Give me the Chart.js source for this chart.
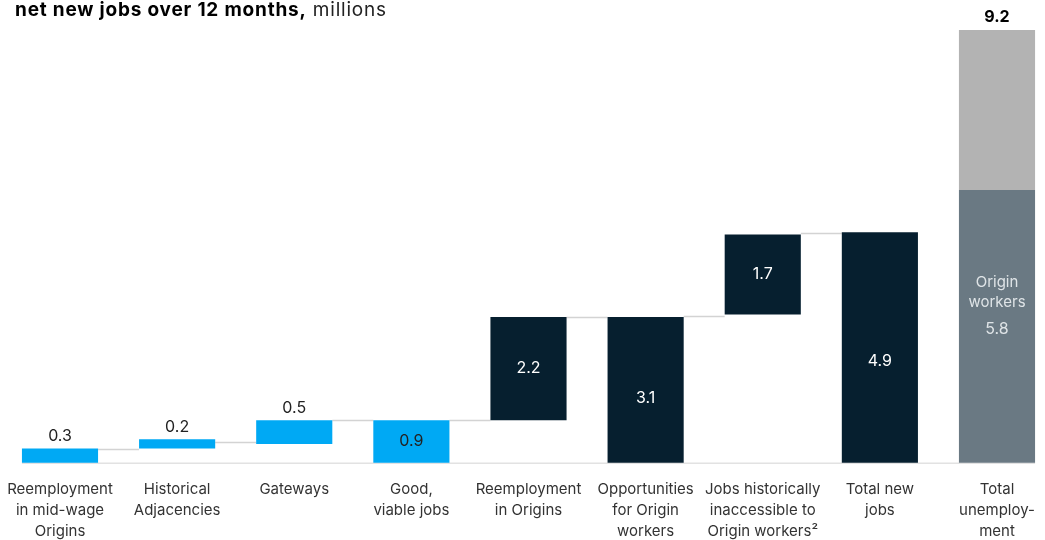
<!DOCTYPE html>
<html>
<head>
<meta charset="utf-8">
<title>Net new jobs over 12 months</title>
<script src="https://cdn.jsdelivr.net/npm/chart.js@4.4.1/dist/chart.umd.min.js"></script>
<style>
  html, body { margin: 0; padding: 0; background: #ffffff; }
  #wrap { position: relative; width: 1045px; height: 540px; }
</style>
</head>
<body>
<div id="wrap"><canvas id="chart" width="1045" height="540"></canvas></div>
<script>
// Categories along the bottom (multi-line tick labels)
const categories = [
  ['Reemployment', 'in mid-wage', 'Origins'],
  ['Historical', 'Adjacencies'],
  ['Gateways'],
  ['Good,', 'viable jobs'],
  ['Reemployment', 'in Origins'],
  ['Opportunities', 'for Origin', 'workers'],
  ['Jobs historically', 'inaccessible to', 'Origin workers\u00B2'],
  ['Total new', 'jobs'],
  ['Total', 'unemploy-', 'ment']
];

// Waterfall steps, millions: stated value of each bar and the level it starts from
const stepValues = [0.3, 0.2, 0.5, 0.9, 2.2, 3.1, 1.7, 4.9];
const stepStarts = [0, 0.3, 0.4, 0, 0.9, 0, 3.15, 0];
// Which steps are running subtotals (solid from zero) vs. increments
const stepKinds = ['add', 'add', 'add', 'total', 'add', 'total', 'add', 'total'];
const stepGroups = ['mid', 'mid', 'mid', 'mid', 'origin', 'origin', 'origin', 'origin'];

// Total unemployment, millions
const originWorkers = 5.8;
const totalUnemployment = 9.2;

const COLORS = {
  mid: '#00a9f4',
  origin: '#061f2f',
  originWorkers: '#6a7983',
  otherWorkers: '#b3b3b3',
  connector: '#d3d3d3',
  baseline: '#e2e2e2',
  text: '#222222'
};
const FONT = "Inter, 'Liberation Sans', Arial, sans-serif";

const lastIndex = categories.length - 1;
const stepData = categories.map((c, i) =>
  i < stepValues.length ? [stepStarts[i], +(stepStarts[i] + stepValues[i]).toFixed(2)] : null);
const originData = categories.map((c, i) => i === lastIndex ? [0, originWorkers] : null);
const otherData = categories.map((c, i) => i === lastIndex ? [originWorkers, totalUnemployment] : null);

// Draws the baseline, the connectors between steps, value labels and the title
const waterfallDecor = {
  id: 'waterfallDecor',
  beforeDatasetsDraw(chart) {
    const { ctx, scales: { y } } = chart;
    const steps = chart.getDatasetMeta(0).data;
    const lastBar = chart.getDatasetMeta(1).data[lastIndex];
    const y0 = y.getPixelForValue(0);
    ctx.save();
    // baseline
    ctx.strokeStyle = COLORS.baseline;
    ctx.lineWidth = 1.5;
    ctx.beginPath();
    ctx.moveTo(steps[0].x - steps[0].width / 2, y0 + 0.5);
    ctx.lineTo(lastBar.x + lastBar.width / 2, y0 + 0.5);
    ctx.stroke();
    // connectors between consecutive steps
    ctx.strokeStyle = COLORS.connector;
    ctx.lineWidth = 1.5;
    for (let i = 0; i < stepValues.length - 1; i++) {
      const top = stepStarts[i] + stepValues[i];
      const nLo = stepStarts[i + 1], nHi = stepStarts[i + 1] + stepValues[i + 1];
      const edge = Math.abs(nLo - top) <= Math.abs(nHi - top) ? nLo : nHi;
      const level = (top + edge) / 2;
      const py = Math.round(y.getPixelForValue(level)) + 0.5;
      const a = steps[i], b = steps[i + 1];
      ctx.beginPath();
      ctx.moveTo(a.x + a.width / 2, py);
      ctx.lineTo(b.x - b.width / 2, py);
      ctx.stroke();
    }
    ctx.restore();
  },
  afterDatasetsDraw(chart) {
    const { ctx, scales: { y } } = chart;
    const steps = chart.getDatasetMeta(0).data;
    const originBar = chart.getDatasetMeta(1).data[lastIndex];
    const otherBar = chart.getDatasetMeta(2).data[lastIndex];
    ctx.save();
    ctx.textAlign = 'center';
    ctx.textBaseline = 'middle';
    ctx.font = '16px ' + FONT;
    stepValues.forEach((v, i) => {
      const bar = steps[i];
      const top = y.getPixelForValue(stepStarts[i] + v);
      const bottom = y.getPixelForValue(stepStarts[i]);
      const txt = v.toFixed(1);
      if (stepGroups[i] === 'mid' && stepKinds[i] === 'add') {
        ctx.fillStyle = COLORS.text;
        ctx.fillText(txt, bar.x, top - 12);
      } else {
        // tall subtotal bars carry their label a little below the middle
        const k = bottom - top > 120 ? 0.44 : 0.5;
        ctx.fillStyle = stepGroups[i] === 'mid' ? COLORS.text : '#ffffff';
        ctx.fillText(txt, bar.x, bottom - (bottom - top) * k);
      }
    });
    // total unemployment bar
    const oTop = y.getPixelForValue(originWorkers);
    ctx.fillStyle = '#dfe4e7';
    ctx.font = '15px ' + FONT;
    ctx.fillText('Origin', originBar.x, oTop + 93);
    ctx.fillText('workers', originBar.x, oTop + 113);
    ctx.font = '16px ' + FONT;
    ctx.fillText(originWorkers.toFixed(1), originBar.x, oTop + 139);
    ctx.fillStyle = '#000000';
    ctx.font = 'bold 16px ' + FONT;
    ctx.fillText(totalUnemployment.toFixed(1), otherBar.x, y.getPixelForValue(totalUnemployment) - 13);
    // title
    ctx.textAlign = 'left';
    ctx.textBaseline = 'alphabetic';
    ctx.letterSpacing = '0.8px';
    ctx.fillStyle = '#000000';
    ctx.font = 'bold 19px ' + FONT;
    const bold = 'net new jobs over 12 months,';
    ctx.fillText(bold, 15, 16);
    const w = ctx.measureText(bold).width;
    ctx.font = '19px ' + FONT;
    ctx.fillStyle = '#222222';
    ctx.fillText(' millions', 15 + w, 16);
    ctx.restore();
  }
};

new Chart(document.getElementById('chart'), {
  type: 'bar',
  data: {
    labels: categories,
    datasets: [
      {
        label: 'Net new jobs',
        data: stepData,
        backgroundColor: stepGroups.map(g => COLORS[g]),
        grouped: false,
        clip: false
      },
      {
        label: 'Origin workers',
        data: originData,
        backgroundColor: COLORS.originWorkers,
        grouped: false,
        clip: false
      },
      {
        label: 'Other unemployed',
        data: otherData,
        backgroundColor: COLORS.otherWorkers,
        grouped: false,
        clip: false
      }
    ]
  },
  options: {
    responsive: false,
    animation: false,
    barPercentage: 0.65,
    categoryPercentage: 1,
    layout: { padding: { top: 30, left: 60, right: 48, bottom: 0 } },
    plugins: {
      legend: { display: false },
      tooltip: { enabled: false }
    },
    scales: {
      x: {
        offset: false,
        grid: { display: false, drawTicks: false },
        border: { display: false },
        ticks: {
          color: '#333333',
          padding: 17,
          maxRotation: 0,
          autoSkip: false,
          font: { family: FONT, size: 15, lineHeight: 1.37 }
        },
        afterFit(scale) {
          scale.height = 77.3;
          scale.paddingLeft = 0;
          scale.paddingRight = 0;
        }
      },
      y: {
        display: false,
        min: 0,
        max: totalUnemployment
      }
    }
  },
  plugins: [waterfallDecor]
});
</script>
</body>
</html>
